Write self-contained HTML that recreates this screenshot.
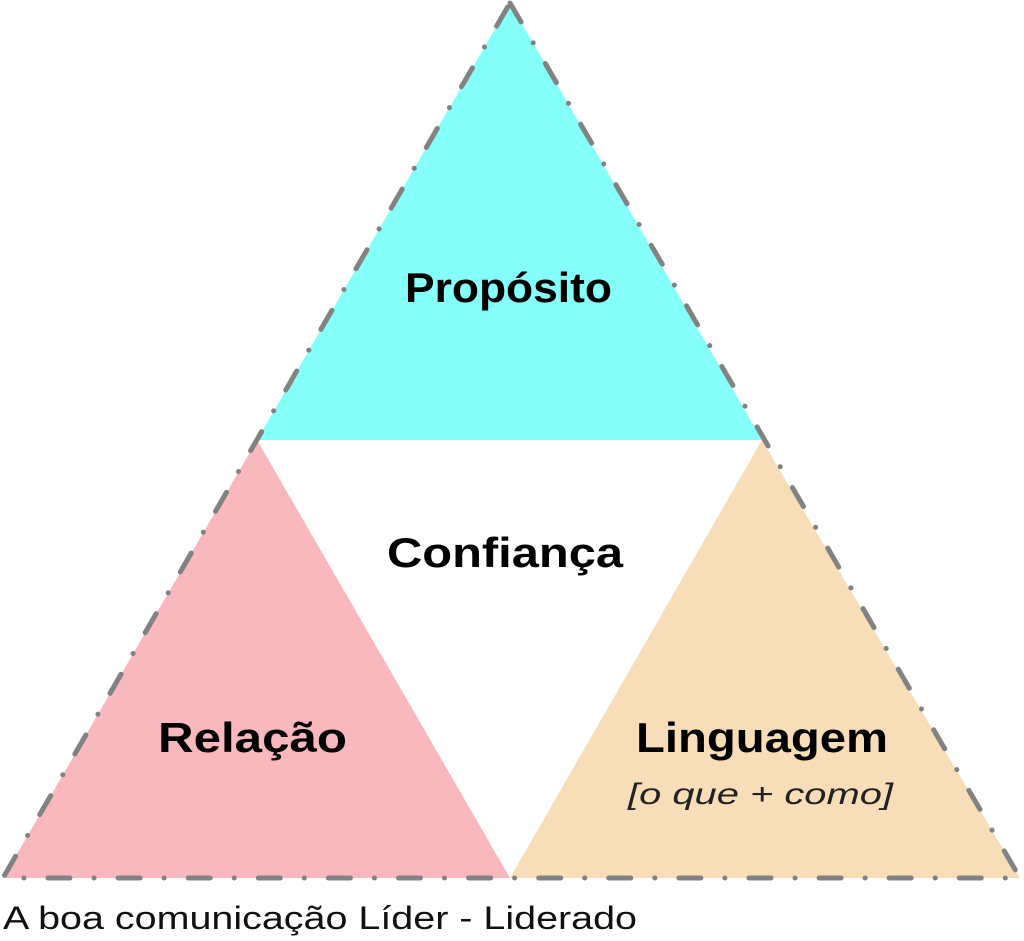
<!DOCTYPE html>
<html><head><meta charset="utf-8"><style>
html,body{margin:0;padding:0;background:#fff;}
svg{display:block}
</style></head><body>
<svg width="1024" height="941" viewBox="0 0 1024 941" xmlns="http://www.w3.org/2000/svg">
<polygon points="510,3 762,440 257,440" fill="#85fff9"/>
<polygon points="257,440 3,878 510,878" fill="#f9b8be"/>
<polygon points="762,440 510,878 1020,878" fill="#f7deb9"/>
<polygon points="510,3 1020,878 3,878" fill="none" stroke="#828282" stroke-width="5" stroke-linecap="round" stroke-linejoin="round" stroke-dasharray="22,24,0.1,24"/>
<g font-family="'Liberation Sans', 'DejaVu Sans', sans-serif" font-weight="bold" font-size="42" fill="#000" lengthAdjust="spacingAndGlyphs">
<text x="405" y="302" textLength="207" lengthAdjust="spacingAndGlyphs">Propósito</text>
<text x="387" y="567" textLength="236" lengthAdjust="spacingAndGlyphs">Confiança</text>
<text x="158" y="752" textLength="189" lengthAdjust="spacingAndGlyphs">Relação</text>
<text x="636" y="752" textLength="252" lengthAdjust="spacingAndGlyphs">Linguagem</text>
</g>
<text x="628" y="804" font-family="'Liberation Sans', sans-serif" font-style="italic" font-size="30" fill="#222" textLength="265" lengthAdjust="spacingAndGlyphs">[o que + como]</text>
<text x="3" y="929" font-family="'Liberation Sans', sans-serif" font-size="32" fill="#111" textLength="634" lengthAdjust="spacingAndGlyphs">A boa comunicação Líder - Liderado</text>
</svg>
</body></html>
